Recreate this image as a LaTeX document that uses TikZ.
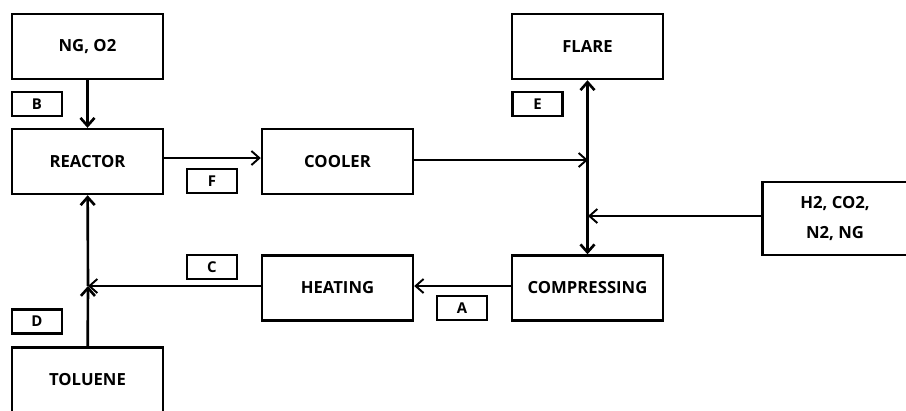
\documentclass[tikz,border=0pt]{standalone}
\usepackage{fontspec}
\setmainfont{Open Sans}
\usetikzlibrary{positioning,arrows.meta}
\tikzset{
  unitbox/.style={draw,line width=1.4pt,minimum width=3.02cm,minimum height=1.3cm,
    inner sep=0pt,font=\bfseries\fontsize{9.5}{11}\selectfont},
  tagbox/.style={draw,line width=1.3pt,minimum width=1.0cm,minimum height=0.48cm,
    inner sep=0pt,font=\bfseries\fontsize{8.5}{10}\selectfont},
  flow/.style={line width=1.1pt,-{Straight Barb[length=4.5pt,width=8pt]}},
  riser/.style={flow,line width=1.5pt},
}
\begin{document}
\begin{tikzpicture}[x=0.02cm,y=-0.02cm]
  \useasboundingbox (0,0) rectangle (906,410);
  % process units
  \node[unitbox] (ngo) at (87.5,46.5) {NG, O2};
  \node[unitbox] (reactor) at (87.5,161.5) {REACTOR};
  \node[unitbox] (cooler) at (337.5,161.5) {COOLER};
  \node[unitbox] (flare) at (587.5,46.5) {FLARE};
  \node[unitbox] (compr) at (587.5,288) {COMPRESSING};
  \node[unitbox] (heating) at (337.5,288) {HEATING};
  \node[unitbox] (toluene) at (87.5,380) {TOLUENE};
  \node[unitbox,minimum width=2.9cm,minimum height=1.46cm,align=center] (gases) at (835,218.5)
    {H2, CO2,\\[6pt] N2, NG};
  % stream tags
  \node[tagbox] (tagB) at (37,104) {B};
  \node[tagbox] (tagE) at (537.5,104) {E};
  \node[tagbox] (tagF) at (212,181) {F};
  \node[tagbox] (tagC) at (212,267) {C};
  \node[tagbox] (tagA) at (462,308) {A};
  \node[tagbox] (tagD) at (37,321.5) {D};
  % junctions
  \coordinate (jtop) at (588,160);
  \coordinate (jgas) at (588,216);
  \coordinate (jfeed) at (88,286);
  % streams
  \draw[riser] (ngo) -- (reactor);
  \draw[flow] (reactor.east |- 0,158) -- (cooler.west |- 0,158);
  \draw[flow] (cooler.east |- jtop) -- (jtop);
  \draw[flow] (gases.west |- jgas) -- (jgas);
  \draw[riser,{Straight Barb[length=4.5pt,width=8pt]}-{Straight Barb[length=4.5pt,width=8pt]}] (flare) -- (compr);
  \draw[flow] (compr.west |- 0,286) -- (heating.east |- 0,286);
  \draw[flow] (heating.west |- jfeed) -- (jfeed);
  \draw[riser] (toluene) -- (jfeed);
  \draw[riser] (jfeed) -- (reactor);
\end{tikzpicture}
\end{document}
